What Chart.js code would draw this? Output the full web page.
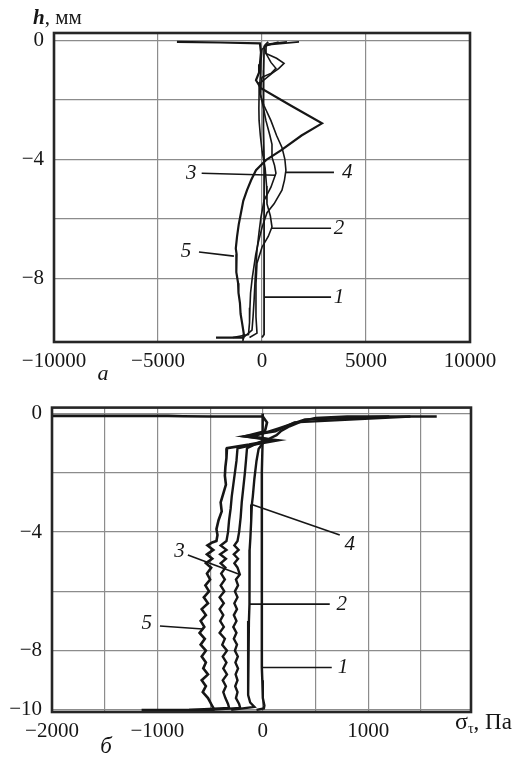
<!DOCTYPE html>
<html><head><meta charset="utf-8">
<script src="https://cdn.jsdelivr.net/npm/chart.js@4"></script>
<style>
html,body{margin:0;padding:0;background:#fff;}
#wrap{position:relative;width:521px;height:765px;background:#fff;}
canvas{position:absolute;left:0;}
</style></head><body>
<div id="wrap">
<canvas id="ca" width="521" height="385" style="top:0"></canvas>
<canvas id="cb" width="521" height="380" style="top:385px"></canvas>
</div>
<script>
// ---------- Panel а (top) ----------
const aStressTicks = [-10000, -5000, 0, 5000, 10000];
const aStressLabels = [-10000, -5000, 0, 5000, 10000];
const aDepthTicks = [0, -2, -4, -6, -8];
const aDepthLabels = [0, -4, -8];

const a1H = [-0.05,-0.15,-0.3,-1,-2,-3,-4,-5,-6,-7,-8,-9,-9.9,-10];
const a1S = [300,150,100,80,60,80,100,100,100,100,100,100,100,0];

const a2H = [-0.05,-0.12,-0.3,-0.7,-1.0,-1.4,-1.8,-2.3,-2.7,-3.2,-3.7,-4.3,-4.9,-5.5,-5.9,-6.28,-6.6,-6.96,-7.5,-8.2,-8.8,-9.3,-9.85,-10];
const a2S = [1200,300,0,-50,-60,-100,-140,-150,-140,-80,0,150,220,240,400,480,300,0,-240,-290,-290,-290,-240,-600];

const a3H = [-0.05,-0.2,-0.45,-0.74,-0.94,-1.1,-1.24,-1.5,-1.8,-2.2,-2.7,-3.2,-3.5,-3.93,-4.2,-4.47,-4.94,-5.38,-5.95,-6.5,-7.06,-7.9,-8.74,-9.3,-9.75,-10];
const a3S = [800,100,200,430,670,450,0,-60,-80,50,190,380,480,480,600,670,430,100,-50,-150,-240,-320,-380,-430,-480,-900];

const a4H = [-0.05,-0.15,-0.44,-0.6,-0.77,-0.95,-1.11,-1.41,-1.8,-2.2,-2.7,-3.2,-3.6,-4.0,-4.37,-4.7,-5.04,-5.5,-5.8,-6.3,-6.8,-7.2,-8.0,-8.5,-9.0,-9.5,-9.9,-10];
const a4S = [1780,200,190,700,1060,800,480,-50,-100,100,430,700,960,1100,1150,1080,960,580,240,0,-180,-300,-470,-550,-580,-600,-650,-1400];

const a5H = [-0.05,-0.07,-0.1,-0.4,-0.8,-1.08,-1.34,-1.61,-2.2,-2.79,-3.2,-3.7,-4.03,-4.37,-4.7,-5.04,-5.4,-5.8,-6.2,-6.6,-7.0,-7.2,-7.4,-7.8,-8.17,-8.5,-8.84,-9.2,-9.5,-9.9,-10.0,-10.0];
const a5S = [-4090,-2000,-100,-50,-100,-140,-290,-50,1400,2885,1900,910,190,-290,-520,-720,-900,-1010,-1120,-1200,-1260,-1220,-1250,-1220,-1150,-1130,-1060,-1030,-960,-870,-900,-2210];

const aLabelText = ['1','2','3','4','5'];
const aLabelX = [3700, 3700, -3400, 4100, -3650];
const aLabelH = [-8.64, -6.32, -4.47, -4.44, -7.12];
const aLeadFromX = [100, 480, 670, 1150, -1350];
const aLeadFromH = [-8.64, -6.32, -4.54, -4.44, -7.26];
const aLeadToX = [3320, 3320, -2900, 3460, -3030];
const aLeadToH = [-8.64, -6.32, -4.47, -4.44, -7.12];

// ---------- Panel б (bottom) ----------
const bStressTicks = [-2000, -1500, -1000, -500, 0, 500, 1000, 1500];
const bStressLabels = [-2000, -1000, 0, 1000];
const bDepthTicks = [0, -2, -4, -6, -8, -10];
const bDepthLabels = [0, -4, -8, -10];

const b1H = [0,-0.5,-1,-2,-3,-4,-5,-6,-7,-8,-8.57,-9,-9.6,-9.85,-9.95,-10];
const b1S = [0,0,-5,-10,-10,-10,-10,-10,-10,-10,-9,-5,0,15,10,-60];

const b2H = [-0.1,-0.1,-0.15,-0.25,-0.43,-0.6,-0.73,-0.85,-1.0,-1.2,-1.6,-2.2,-2.8,-3.07,-3.6,-4.2,-4.6,-5.0,-5.5,-6.0,-6.43,-7.0,-7.5,-8.0,-8.5,-9.0,-9.5,-9.75,-9.9,-10];
const b2S = [1650,800,500,380,255,170,130,60,0,-40,-60,-80,-95,-104,-110,-118,-125,-128,-130,-125,-123,-132,-138,-140,-140,-138,-140,-120,-80,-300];

const b3H = [-0.1,-0.2,-0.5,-0.77,-0.85,-1.0,-1.17,-1.6,-2.0,-2.5,-3.0,-3.5,-4.0,-4.3,-4.45,-4.6,-4.75,-4.9,-5.05,-5.2,-5.43,-5.6,-5.8,-6.0,-6.2,-6.4,-6.6,-6.8,-7.0,-7.2,-7.4,-7.6,-7.8,-8.0,-8.2,-8.4,-8.6,-8.8,-9.0,-9.2,-9.4,-9.6,-9.8,-9.93,-10];
const b3S = [1200,400,150,-90,40,-50,-150,-160,-170,-185,-200,-210,-225,-240,-270,-230,-275,-235,-270,-240,-218,-255,-235,-265,-240,-270,-245,-275,-250,-280,-250,-275,-245,-265,-237,-260,-235,-258,-240,-262,-240,-255,-225,-215,-500];

const b4H = [-0.1,-0.3,-0.6,-0.77,-0.9,-1.05,-1.17,-1.6,-2.0,-2.4,-2.8,-3.2,-3.6,-4.0,-4.3,-4.45,-4.6,-4.75,-4.9,-5.05,-5.2,-5.4,-5.6,-5.8,-6.0,-6.2,-6.4,-6.6,-6.8,-7.0,-7.2,-7.4,-7.6,-7.8,-8.0,-8.2,-8.4,-8.6,-8.8,-9.0,-9.2,-9.4,-9.6,-9.8,-9.93,-10];
const b4S = [1400,300,120,-180,150,-80,-240,-250,-265,-280,-295,-305,-320,-330,-345,-400,-345,-405,-350,-400,-355,-395,-360,-400,-365,-410,-370,-410,-375,-405,-370,-410,-360,-385,-340,-380,-345,-375,-340,-380,-350,-375,-355,-330,-320,-700];

const b5H = [-0.08,-0.08,-0.09,-0.1,-0.1,-0.3,-0.6,-0.77,-0.9,-1.05,-1.17,-1.5,-1.8,-2.1,-2.4,-2.7,-3.0,-3.3,-3.6,-3.9,-4.1,-4.3,-4.35,-4.45,-4.6,-4.75,-4.9,-5.05,-5.2,-5.4,-5.6,-5.8,-6.0,-6.2,-6.4,-6.6,-6.8,-7.0,-7.2,-7.4,-7.6,-7.8,-8.0,-8.2,-8.4,-8.6,-8.8,-9.0,-9.2,-9.4,-9.6,-9.8,-9.93,-10,-10];
const b5S = [-2000,-900,-760,-500,0,40,20,-170,90,-130,-340,-345,-355,-360,-350,-375,-400,-390,-420,-440,-430,-440,-480,-525,-470,-530,-480,-540,-490,-530,-500,-545,-510,-560,-520,-580,-540,-590,-555,-600,-550,-590,-540,-580,-540,-565,-520,-580,-540,-570,-520,-490,-470,-470,-1150];

const bLabelText = ['1','2','3','4','5'];
const bLabelX = [760, 750, -790, 825, -1100];
const bLabelH = [-8.57, -6.43, -4.67, -4.43, -7.1];
const bLeadFromX = [-9, -123, -711, -104, -976];
const bLeadFromH = [-8.57, -6.43, -4.77, -3.07, -7.17];
const bLeadToX = [654, 635, -218, 730, -569];
const bLeadToH = [-8.57, -6.43, -5.43, -4.1, -7.27];

// ---------- drawing ----------
const INK = '#161616';
const GRID = '#8c8c8c';
const SERIF = "'Liberation Serif', 'DejaVu Serif', serif";
const fmt = v => (v < 0 ? '\u2212' + Math.abs(v) : String(v));

function panel(el, p) {
  const datasets = [];
  p.curves.forEach(c => {
    datasets.push({
      data: c.h.map((h, i) => ({ x: c.s[i], y: h })),
      showLine: true, borderColor: INK, borderWidth: c.w,
      pointRadius: 0, tension: 0, fill: false
    });
  });
  p.leadFromX.forEach((x0, i) => {
    datasets.push({
      data: [{ x: x0, y: p.leadFromH[i] }, { x: p.leadToX[i], y: p.leadToH[i] }],
      showLine: true, borderColor: INK, borderWidth: 1.6,
      pointRadius: 0, fill: false, clip: false
    });
  });
  const deco = {
    id: 'deco',
    afterDraw(chart) {
      const ctx = chart.ctx, a = chart.chartArea;
      const xs = chart.scales.x, ys = chart.scales.y;
      ctx.save();
      ctx.strokeStyle = '#262626';
      ctx.lineWidth = 2.6;
      ctx.strokeRect(a.left, a.top, a.right - a.left, a.bottom - a.top);
      ctx.fillStyle = INK;
      ctx.textAlign = 'center';
      ctx.textBaseline = 'middle';
      ctx.font = 'italic 21px ' + SERIF;
      p.labelText.forEach((t, i) => {
        ctx.fillText(t, xs.getPixelForValue(p.labelX[i]), ys.getPixelForValue(p.labelH[i]));
      });
      p.extra(ctx, a);
      ctx.restore();
    }
  };
  return new Chart(el, {
    type: 'scatter',
    data: { datasets },
    options: {
      responsive: false, animation: false, events: [],
      plugins: { legend: { display: false }, tooltip: { enabled: false } },
      layout: { padding: { left: 0, top: p.padTop, right: p.padRight, bottom: 0 } },
      scales: {
        x: {
          type: 'linear', min: p.xMin, max: p.xMax,
          afterBuildTicks: s => { s.ticks = p.xTicks.map(v => ({ value: v })); },
          afterFit: s => { s.height = p.xHeight; },
          grid: { color: GRID, lineWidth: 1.2, drawTicks: false },
          border: { display: false },
          ticks: {
            autoSkip: false, maxRotation: 0, padding: 7, color: INK,
            font: { family: SERIF, size: 21 },
            callback: v => (p.xLabels.includes(v) ? fmt(v) : '')
          }
        },
        y: {
          type: 'linear', min: p.yMin, max: p.yMax,
          afterBuildTicks: s => { s.ticks = p.yTicks.map(v => ({ value: v })); },
          afterFit: s => { s.width = p.yWidth; },
          grid: { color: GRID, lineWidth: 1.2, drawTicks: false },
          border: { display: false },
          ticks: {
            autoSkip: false, padding: 10, color: INK,
            font: { family: SERIF, size: 21 },
            callback: v => (p.yLabels.includes(v) ? fmt(v) : '')
          }
        }
      }
    },
    plugins: [deco]
  });
}

panel(document.getElementById('ca'), {
  curves: [
    { h: a1H, s: a1S, w: 1.8 }, { h: a2H, s: a2S, w: 1.6 }, { h: a3H, s: a3S, w: 1.6 },
    { h: a4H, s: a4S, w: 1.6 }, { h: a5H, s: a5S, w: 2.2 }
  ],
  labelText: aLabelText, labelX: aLabelX, labelH: aLabelH,
  leadFromX: aLeadFromX, leadFromH: aLeadFromH, leadToX: aLeadToX, leadToH: aLeadToH,
  xMin: -10000, xMax: 10000, yMin: -10.15, yMax: 0.25,
  xTicks: aStressTicks, xLabels: aStressLabels, yTicks: aDepthTicks, yLabels: aDepthLabels,
  padTop: 33, padRight: 51, xHeight: 43, yWidth: 54,
  extra(ctx) {
    ctx.textAlign = 'left';
    ctx.textBaseline = 'alphabetic';
    ctx.font = 'italic bold 21px ' + SERIF;
    ctx.fillText('h', 33, 24);
    const w = ctx.measureText('h').width;
    ctx.font = '21px ' + SERIF;
    ctx.fillText(', мм', 33 + w, 24);
    ctx.textAlign = 'center';
    ctx.font = 'italic 22px ' + SERIF;
    ctx.fillText('а', 103, 380);
  }
});

panel(document.getElementById('cb'), {
  curves: [
    { h: b1H, s: b1S, w: 2.4 }, { h: b2H, s: b2S, w: 2.4 }, { h: b3H, s: b3S, w: 2.4 },
    { h: b4H, s: b4S, w: 2.4 }, { h: b5H, s: b5S, w: 2.6 }
  ],
  labelText: bLabelText, labelX: bLabelX, labelH: bLabelH,
  leadFromX: bLeadFromX, leadFromH: bLeadFromH, leadToX: bLeadToX, leadToH: bLeadToH,
  xMin: -2000, xMax: 1975, yMin: -10.07, yMax: 0.2,
  xTicks: bStressTicks, xLabels: bStressLabels, yTicks: bDepthTicks, yLabels: bDepthLabels,
  padTop: 19, padRight: 50, xHeight: 53, yWidth: 52,
  extra(ctx) {
    ctx.textAlign = 'left';
    ctx.textBaseline = 'alphabetic';
    ctx.font = '24px ' + SERIF;
    let x = 455;
    ctx.fillText('σ', x, 344);
    x += ctx.measureText('σ').width;
    ctx.font = '14px ' + SERIF;
    ctx.fillText('τ', x, 348);
    x += ctx.measureText('τ').width;
    ctx.font = '23px ' + SERIF;
    ctx.fillText(', Па', x, 344);
    ctx.textAlign = 'center';
    ctx.font = 'italic 23px ' + SERIF;
    ctx.fillText('б', 106, 368);
  }
});
</script>
</body></html>
